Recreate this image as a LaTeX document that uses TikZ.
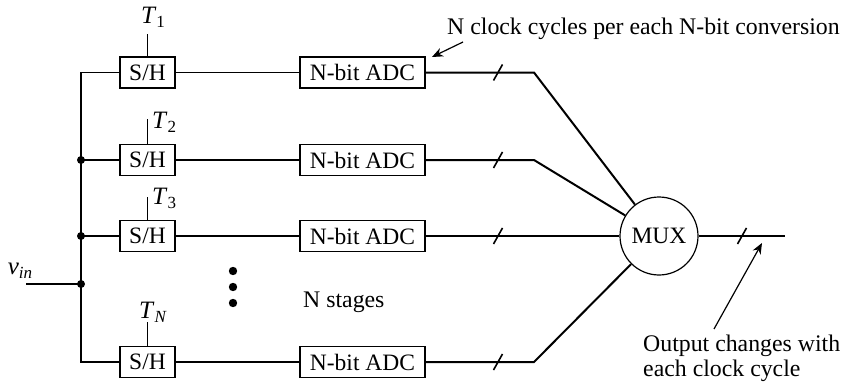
\documentclass[tikz,border=0pt]{standalone}
\usepackage{fontspec}
\setmainfont{Liberation Serif}
\usetikzlibrary{arrows.meta}
\newcommand{\mysub}[1]{\raisebox{-0.35ex}{\fontsize{17}{17}\selectfont #1}}
\tikzset{
  blk/.style={draw, line width=1.2pt, inner sep=0pt, minimum height=31, font=\fontsize{23.5}{26}\selectfont},
  shbox/.style={blk, minimum width=55},
  adcbox/.style={blk, minimum width=125},
  wire/.style={line width=1.3pt},
  bus/.style={line width=2pt},
  lbl/.style={font=\fontsize{23.8}{26}\selectfont, inner sep=0pt},
  tlbl/.style={font=\fontsize{25}{26}\selectfont, inner sep=0pt},
  junc/.style={circle, fill, inner sep=0pt, minimum size=8},
  slashmark/.style={line width=1.6pt},
  note/.style={line width=1.2pt, -{Stealth[length=11pt, width=9pt]}}
}
\begin{document}
\begin{tikzpicture}[x=1pt,y=-1pt]
\useasboundingbox (0,0) rectangle (855,388);
% S/H boxes
\node[shbox] (sh1) at (147.5,72.5) {S/H};
\node[shbox] (sh2) at (147.5,160) {S/H};
\node[shbox] (sh3) at (147.5,236) {S/H};
\node[shbox] (sh4) at (147.5,362) {S/H};
% ADC boxes
\node[adcbox] (adc1) at (362.5,72.5) {N-bit ADC};
\node[adcbox] (adc2) at (362.5,160) {N-bit ADC};
\node[adcbox] (adc3) at (362.5,236) {N-bit ADC};
\node[adcbox] (adc4) at (362.5,362) {N-bit ADC};
% MUX
\node[draw, circle, line width=1.2pt, minimum size=78, inner sep=0pt, font=\fontsize{23.5}{26}\selectfont] (mux) at (659,236) {MUX};
% coordinates
\coordinate (b4) at (81,362);
\coordinate (j2c) at (81,160);
\coordinate (j3c) at (81,236);
\coordinate (jinc) at (81,284);
\coordinate (vin) at (26,284);
\coordinate (k1) at (534,72.5);
\coordinate (k2) at (534,160);
\coordinate (k4) at (534,362);
\coordinate (out) at (785,236);
\coordinate (c1) at (147.5,34);
\coordinate (c2) at (147.5,119);
\coordinate (c3) at (147.5,197);
\coordinate (c4) at (147.5,322);
% input bus
\draw[wire] (sh1.west) -| (b4) -- (sh4.west);
\draw[wire] (j2c) -- (sh2.west);
\draw[wire] (j3c) -- (sh3.west);
\draw[wire] (vin) -- (jinc);
\node[junc] (j2) at (j2c) {};
\node[junc] (j3) at (j3c) {};
\node[junc] (jin) at (jinc) {};
\node[tlbl] (vinl) at (20,271) {\textit{v}\mysub{\textit{in}}};
% clocks
\draw[wire] (c1) -- (sh1.north);
\draw[wire] (c2) -- (sh2.north);
\draw[wire] (c3) -- (sh3.north);
\draw[wire] (c4) -- (sh4.north);
\node[tlbl] (t1) at (153,17) {\textit{T}\mysub{1}};
\node[tlbl, anchor=west] (t2) at (152,122) {\textit{T}\mysub{2}};
\node[tlbl, anchor=west] (t3) at (152,198) {\textit{T}\mysub{3}};
\node[tlbl] (tn) at (153,312) {\textit{T}\mysub{\textit{N}}};
% S/H to ADC
\draw[wire] (sh1.east) -- (adc1.west);
\draw[wire] (sh2.east) -- (adc2.west);
\draw[wire] (sh3.east) -- (adc3.west);
\draw[wire] (sh4.east) -- (adc4.west);
% ADC to MUX
\draw[bus] (adc1.east) -- (k1) -- (mux);
\draw[bus] (adc2.east) -- (k2) -- (mux);
\draw[bus] (adc3.east) -- (mux.west);
\draw[bus] (adc4.east) -- (k4) -- (mux);
\draw[bus] (mux.east) -- (out);
% slash marks
\coordinate (s1) at (498,72.5);
\coordinate (s2) at (498,160);
\coordinate (s3) at (498,236);
\coordinate (s4) at (498,362);
\coordinate (s5) at (742,236);
\foreach \s in {s1,s2,s3,s4,s5}
  \draw[slashmark] ([shift={(-4.5,8)}]\s) -- ([shift={(4.5,-8)}]\s);
% dots
\fill (233,271) circle (4.2);
\fill (233,287) circle (4.2);
\fill (233,303) circle (4.2);
\node[lbl, anchor=west] (stages) at (303,302) {N stages};
% notes
\node[lbl, anchor=west] (topnote) at (447,29) {N clock cycles per each N-bit conversion};
\coordinate (a1s) at (463,42);
\coordinate (a1e) at (432,57);
\draw[note] (a1s) -- (a1e);
\node[lbl, anchor=north west, align=left, font=\fontsize{23.8}{25}\selectfont] (outnote) at (643,335) {Output changes with\\each clock cycle};
\coordinate (a2s) at (714,329);
\coordinate (a2e) at (762,243);
\draw[note] (a2s) -- (a2e);
\end{tikzpicture}
\end{document}
